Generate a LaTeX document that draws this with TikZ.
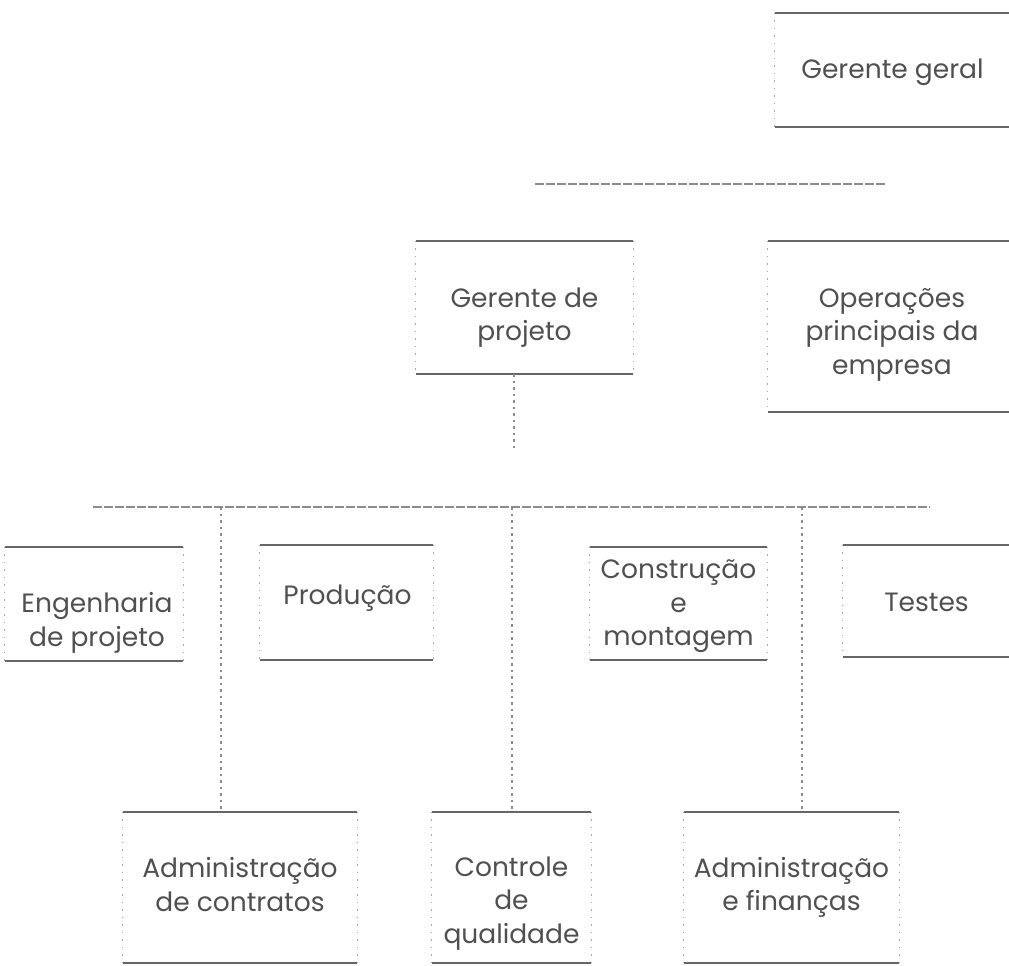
\documentclass[tikz,border=0pt]{standalone}
\usepackage{fontspec}
\setmainfont{Poppins}
\definecolor{ink}{HTML}{505050}
\definecolor{rulegray}{HTML}{666666}
\definecolor{sidegray}{HTML}{A8A8A8}
\definecolor{conngray}{HTML}{8C8C8C}
\tikzset{
  topline/.style={draw=rulegray, line width=2.2bp},
  sideline/.style={draw=sidegray, line width=1.1bp, dash pattern=on 1.5bp off 6bp},
  orgbox/.style={rectangle, draw=none, inner sep=0pt,
    append after command={
      (\tikzlastnode.north west) edge[topline] (\tikzlastnode.north east)
      (\tikzlastnode.south west) edge[topline] (\tikzlastnode.south east)
      (\tikzlastnode.north west) edge[sideline] (\tikzlastnode.south west)
      (\tikzlastnode.north east) edge[sideline] (\tikzlastnode.south east)
    }},
  boxtext/.style={inner sep=0pt, align=center, text=ink,
    font=\fontsize{26.5bp}{33.5bp}\selectfont},
  bus/.style={draw=conngray, line width=1.4bp, dash pattern=on 9bp off 2bp},
  drop/.style={draw=conngray, line width=1.1bp, dash pattern=on 2.5bp off 4bp},
}
\begin{document}
\begin{tikzpicture}[x=1bp, y=-1bp]
\useasboundingbox (0,0) rectangle (1009,966);
\clip (0,0) rectangle (1009,966);

% top level
\node[orgbox, minimum width=235bp, minimum height=114bp] (gg) at (892.5,70) {};
\node[boxtext] (ggt) at ([yshift=-2bp]gg.center) {Gerente geral};

% second level
\node[orgbox, minimum width=217bp, minimum height=133bp] (gp) at (524.5,307.5) {};
\node[boxtext] (gpt) at ([yshift=-10bp]gp.center) {Gerente de\\projeto};
\node[orgbox, minimum width=242bp, minimum height=171bp] (op) at (889,326.5) {};
\node[boxtext] (opt) at ([xshift=3bp, yshift=-8bp]op.center) {Operações\\principais da\\empresa};

% third level
\node[orgbox, minimum width=178bp, minimum height=114bp] (ep) at (94,604) {};
\node[boxtext] (ept) at ([xshift=3bp, yshift=-19bp]ep.center) {Engenharia\\de projeto};
\node[orgbox, minimum width=173bp, minimum height=115bp] (pr) at (346.5,602.5) {};
\node[boxtext] (prt) at ([xshift=1bp, yshift=4bp]pr.center) {Produção};
\node[orgbox, minimum width=177bp, minimum height=113bp] (cm) at (678.5,603.5) {};
\node[boxtext] (cmt) at ([yshift=-3bp]cm.center) {Construção\\e\\montagem};
\node[orgbox, minimum width=167bp, minimum height=112bp] (te) at (926.5,601) {};
\node[boxtext] (tet) at ([yshift=-1bp]te.center) {Testes};

% fourth level
\node[orgbox, minimum width=234bp, minimum height=151bp] (ac) at (240,887.5) {};
\node[boxtext] (act) at ([yshift=3bp]ac.center) {Administração\\de contratos};
\node[orgbox, minimum width=159bp, minimum height=151bp] (cq) at (511.5,887.5) {};
\node[boxtext] (cqt) at ([yshift=-16bp]cq.center) {Controle\\de\\qualidade};
\node[orgbox, minimum width=215bp, minimum height=151bp] (af) at (791.5,887.5) {};
\node[boxtext] (aft) at (af.center) {Administração\\e finanças};

% bus lines and junction points
\coordinate (b1l) at (535,184);
\coordinate (b1r) at (885,184);
\coordinate (gpend) at (514,450);
\coordinate (b2l) at (93,507);
\coordinate (b2r) at (930,507);
\coordinate (j1) at (221,507);
\coordinate (j2) at (512,507);
\coordinate (j3) at (802,507);

\draw[bus] (b1l) -- (b1r);
\draw[drop] (gpend |- gp.south) -- (gpend);
\draw[bus] (b2l) -- (b2r);
\draw[drop] (j1) -- (j1 |- ac.north);
\draw[drop] (j2) -- (j2 |- cq.north);
\draw[drop] (j3) -- (j3 |- af.north);
\end{tikzpicture}
\end{document}
